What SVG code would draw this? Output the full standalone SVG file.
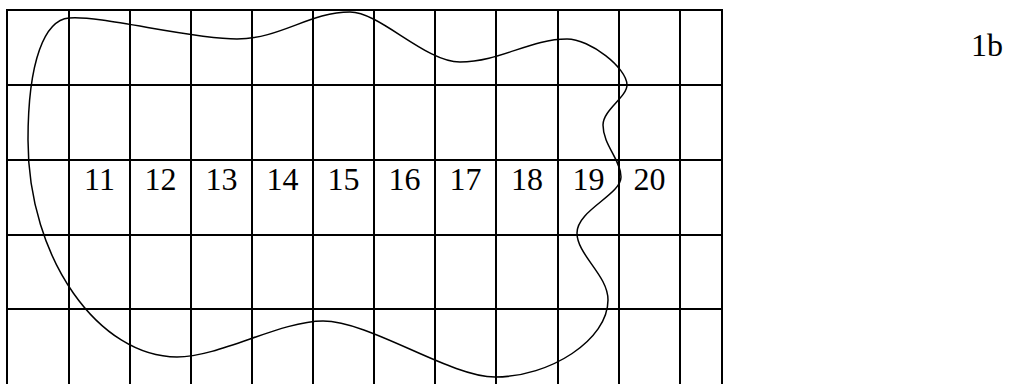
<svg xmlns="http://www.w3.org/2000/svg" width="1010" height="384" viewBox="0 0 1010 384">
<style>
.g{stroke:#000;stroke-width:2;fill:none}
.c{stroke:#000;stroke-width:1.5;fill:none}
.t{font-family:"Liberation Serif","Times New Roman",serif;font-size:32px;fill:#000;text-anchor:middle}
</style>
<rect width="1010" height="384" fill="#fff"/>
<g id="grid" class="g">
<path d="M7,10V384M69,10V384M130,10V384M191,10V384M252,10V384M313,10V384M374,10V384M435,10V384M496,10V384M558,10V384M619,10V384M680,10V384M722,10V384"/>
<path d="M6,10H723M6,85H723M6,160H723M6,235H723M6,309H723"/>
</g>
<g id="boundary">
<path class="c" d="M69,18 C100,15 190,39 237,39 C280,39 310,12 350,12 C380,12 425,62 460,62 C500,62 530,39 567,39 C590,39 627,68 627,85 C627,97 603,110 603,125 C603,145 621,160 621,177 C621,195 577,210 577,233 C577,255 608,275 608,300 C608,340 550,377 495,377 C450,377 370,321 323,321 C280,321 220,357 177,357 C100,357 28,260 28,140 C28,60 45,20 69,18 Z"/>
</g>
<g id="labels" class="t">
<text x="99.5" y="190">11</text>
<text x="160.5" y="190">12</text>
<text x="221.5" y="190">13</text>
<text x="282.5" y="190">14</text>
<text x="343.5" y="190">15</text>
<text x="404.5" y="190">16</text>
<text x="465.5" y="190">17</text>
<text x="527" y="190">18</text>
<text x="588.5" y="190">19</text>
<text x="649.5" y="190">20</text>
</g>
<text id="caption" x="971" y="56" font-family="'Liberation Serif','Times New Roman',serif" font-size="32" fill="#000">1b</text>
</svg>
